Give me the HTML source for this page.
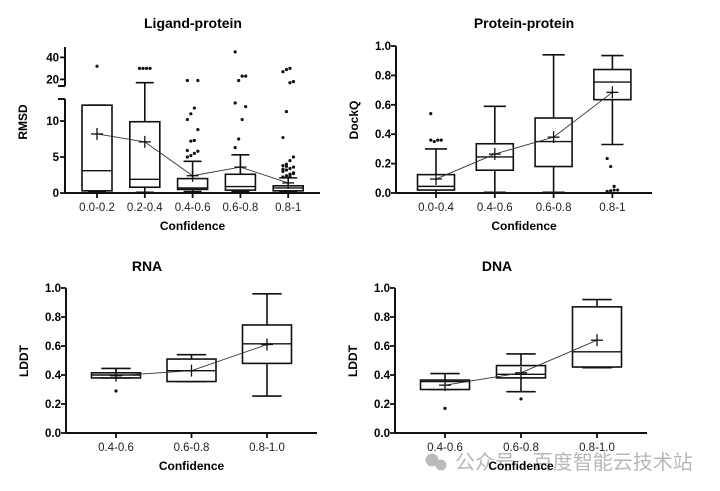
<!DOCTYPE html>
<html><head><meta charset="utf-8"><style>
body{margin:0;background:#fff;}
svg{display:block;font-family:"Liberation Sans",Arial,sans-serif;}
.t{font-weight:bold;font-size:14px;text-anchor:middle;}
.ax{font-weight:bold;font-size:12px;text-anchor:middle;}
.tk{font-size:11.5px;fill:#222;text-anchor:middle;}
.yt{font-size:11.5px;font-weight:bold;text-anchor:end;}
</style></head><body>
<svg id="c" width="720" height="491" viewBox="0 0 720 491">
<text class="t" x="193" y="28">Ligand-protein</text>
<text class="t" x="524" y="28">Protein-protein</text>
<text class="t" x="147" y="271">RNA</text>
<text class="t" x="497" y="271">DNA</text>
<g fill="#bbb">
<circle cx="432" cy="460" r="6.5"/><circle cx="441" cy="465" r="5.5"/>
<text x="455" y="469" font-size="20" fill="#b8b8b8" font-family="'Liberation Sans','Noto Sans CJK SC',sans-serif">公众号 · 百度智能云技术站</text>
</g>
</svg>
<script>
// Ligand-protein
const ligCats=["0.0-0.2","0.2-0.4","0.4-0.6","0.6-0.8","0.8-1"];
const ligLow=[0.1,0.1,0.2,0.2,0.1];
const ligQ1=[0.3,0.8,0.5,0.4,0.3];
const ligMed=[3.1,1.9,0.7,0.9,0.7];
const ligQ3=[12.2,9.9,2.0,2.6,1.0];
const ligHigh=[12.2,17,4.4,5.3,2.1];
const ligMean=[8.2,7.1,2.4,3.6,1.4];
const ligOut=[[32],[30,30,30,30],[5.0,5.2,5.5,5.8,5.9,7.2,7.3,8.8,10.2,11.0,11.8,19,19],[6.3,7.5,10.2,12,12.5,19,23,23,45],[2.2,2.4,2.6,2.8,3.0,3.2,3.4,3.6,3.8,4.0,2.3,2.7,3.3,3.7,4.5,5,7.7,11.3,17,18,27,29,30]];
// Protein-protein
const ppCats=["0.0-0.4","0.4-0.6","0.6-0.8","0.8-1"];
const ppLow=[0.0,0.005,0.005,0.33];
const ppQ1=[0.02,0.155,0.18,0.635];
const ppMed=[0.045,0.245,0.35,0.755];
const ppQ3=[0.125,0.335,0.51,0.84];
const ppHigh=[0.30,0.59,0.94,0.935];
const ppMean=[0.095,0.265,0.38,0.685];
const ppOut=[[0.54,0.35,0.36,0.36,0.36],[],[],[0.235,0.18,0.045,0.02,0.01,0.015,0.02]];
// RNA
const rnaCats=["0.4-0.6","0.6-0.8","0.8-1.0"];
const rnaLow=[0.38,0.355,0.255];
const rnaQ1=[0.38,0.355,0.48];
const rnaMed=[0.40,0.43,0.615];
const rnaQ3=[0.415,0.51,0.745];
const rnaHigh=[0.445,0.54,0.96];
const rnaMean=[0.395,0.43,0.61];
const rnaOut=[[0.29],[],[]];
// DNA
const dnaCats=["0.4-0.6","0.6-0.8","0.8-1.0"];
const dnaLow=[0.30,0.285,0.45];
const dnaQ1=[0.30,0.38,0.455];
const dnaMed=[0.355,0.405,0.56];
const dnaQ3=[0.365,0.465,0.87];
const dnaHigh=[0.41,0.545,0.92];
const dnaMean=[0.33,0.415,0.64];
const dnaOut=[[0.17],[0.235],[]];

const svg=document.getElementById('c');
const NS="http://www.w3.org/2000/svg";
function mk(tag,attrs,txt){const e=document.createElementNS(NS,tag);for(const k in attrs)e.setAttribute(k,attrs[k]);if(txt!==undefined)e.textContent=txt;svg.appendChild(e);return e;}
function ln(x1,y1,x2,y2,w,name){const e=mk('line',{x1,y1,x2,y2,stroke:'#111','stroke-width':w});

return e;}

function panel(p){
  const n=p.cats.length;
  const cx=i=>p.cx0+i*p.step;
  ln(p.x0,p.yBase,p.x1,p.yBase,2,p.id+'-x-axis');
  p.yAxis();
  const means=[];
  for(let i=0;i<n;i++){
    const x=cx(i),hw=p.bw/2,cw=p.bw*0.3;
    ln(x,p.yBase,x,p.yBase+5,1.8,p.id+'-x-tick');
    const tl=mk('text',{class:'tk',x:x,y:p.yBase+18},p.cats[i]);
    
    
    ln(x,p.y(p.high[i]),x,p.y(p.q3[i]),1.6,p.id+'-whisker-high');
    ln(x,p.y(p.low[i]),x,p.y(p.q1[i]),1.6,p.id+'-whisker-low');
    ln(x-cw,p.y(p.high[i]),x+cw,p.y(p.high[i]),1.6,p.id+'-cap-high');
    ln(x-cw,p.y(p.low[i]),x+cw,p.y(p.low[i]),1.6,p.id+'-cap-low');
    const r=mk('rect',{x:x-hw,y:p.y(p.q3[i]),width:p.bw,height:Math.max(1,p.y(p.q1[i])-p.y(p.q3[i])),fill:'#fff',stroke:'#111','stroke-width':1.6});
    
    
    ln(x-hw,p.y(p.med[i]),x+hw,p.y(p.med[i]),1.4,p.id+'-median');
    p.out[i].forEach((v,j)=>{
      const off=((j%4)-1.5)*3.5*(p.out[i].length>3?1:0);
      const c=mk('circle',{cx:x+off,cy:p.y(v),r:1.6,fill:'#111'});
      
      
    });
    means.push([x,p.y(p.mean[i])]);
  }
  const pl=mk('polyline',{points:means.map(m=>m.join(',')).join(' '),fill:'none',stroke:'#333','stroke-width':0.9});
  
  
  means.forEach(m=>{
    ln(m[0]-6,m[1],m[0]+6,m[1],1.3,p.id+'-mean-marker');
    ln(m[0],m[1]-6,m[0],m[1]+6,1.3,p.id+'-mean-marker');
  });
  const xt=mk('text',{class:'ax',x:(p.x0+p.x1)/2,y:p.yBase+37},'Confidence');
  
  
  const yt=mk('text',{class:'ax',transform:`translate(${p.x0-38},${p.yTitle}) rotate(-90)`},p.ytitle);
  
  
}
function linAxis(id,x0,y0,y1,ticks){
  ln(x0,y0,x0,y1,2,id+'-y-axis');
  ticks.forEach(v=>{
    const y=y0+(y1-y0)*v;
    ln(x0-5,y,x0,y,1.8,id+'-y-tick');
    const t=mk('text',{class:'yt',x:x0-5,y:y+4},v.toFixed(1));
    
    
  });
}
const unitTicks=[0,0.2,0.4,0.6,0.8,1.0];
const ligY=v=> v<=13.5 ? 193-7.2*v : 86-(v-14)*1.1;
panel({id:'ligand',cats:ligCats,low:ligLow,q1:ligQ1,med:ligMed,q3:ligQ3,high:ligHigh,mean:ligMean,out:ligOut,
 x0:65,x1:320,yBase:193,cx0:97,step:47.8,bw:30,y:ligY,ytitle:'RMSD',yTitle:122,
 yAxis:()=>{
  ln(65,193,65,99,2,'ligand-y-axis-lower');ln(58,99,65,99,2,'ligand-axis-break');
  ln(65,86,65,47,2,'ligand-y-axis-upper');ln(58,86,65,86,2,'ligand-axis-break');
  [0,5,10,20,40].forEach(v=>{const y=ligY(v);ln(60,y,65,y,1.8,'ligand-y-tick');
   const t=mk('text',{class:'yt',x:59,y:y+4},String(v));
   
   });
 }});
panel({id:'protein',cats:ppCats,low:ppLow,q1:ppQ1,med:ppMed,q3:ppQ3,high:ppHigh,mean:ppMean,out:ppOut,
 x0:396,x1:652,yBase:193,cx0:436,step:58.8,bw:37,y:v=>193-147*v,ytitle:'DockQ',yTitle:120,
 yAxis:()=>linAxis('protein',396,193,46,unitTicks)});
panel({id:'rna',cats:rnaCats,low:rnaLow,q1:rnaQ1,med:rnaMed,q3:rnaQ3,high:rnaHigh,mean:rnaMean,out:rnaOut,
 x0:66,x1:317,yBase:433,cx0:116,step:75.5,bw:49,y:v=>433-145*v,ytitle:'LDDT',yTitle:361,
 yAxis:()=>linAxis('rna',66,433,288,unitTicks)});
panel({id:'dna',cats:dnaCats,low:dnaLow,q1:dnaQ1,med:dnaMed,q3:dnaQ3,high:dnaHigh,mean:dnaMean,out:dnaOut,
 x0:395,x1:647,yBase:433,cx0:445,step:76,bw:49,y:v=>433-145*v,ytitle:'LDDT',yTitle:361,
 yAxis:()=>linAxis('dna',395,433,288,unitTicks)});
</script>
</body></html>
